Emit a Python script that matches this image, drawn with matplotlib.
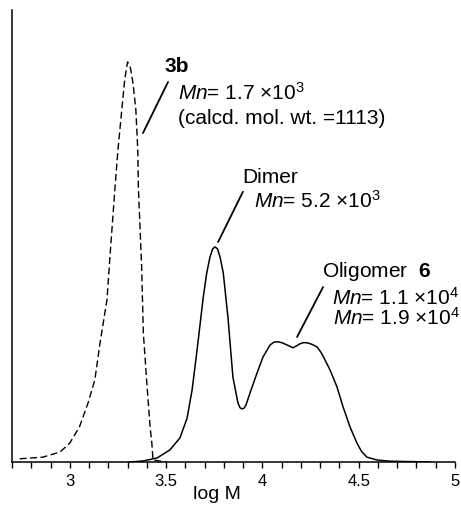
import numpy as np
import matplotlib
matplotlib.use('Agg')
import matplotlib.pyplot as plt
from matplotlib.ticker import MultipleLocator, FuncFormatter

plt.rcParams['font.family'] = ['Liberation Sans', 'DejaVu Sans']
plt.rcParams['mathtext.fontset'] = 'custom'
plt.rcParams['mathtext.rm'] = 'Liberation Sans'
plt.rcParams['mathtext.it'] = 'Liberation Sans:italic'
plt.rcParams['mathtext.bf'] = 'Liberation Sans:bold'

# GPC trace of 3b (dashed)
logm_3b = [2.74, 2.86, 2.95, 3.00, 3.05, 3.095, 3.13, 3.157, 3.193, 3.21, 3.235,
           3.25, 3.27, 3.285, 3.30, 3.315, 3.328, 3.343, 3.353, 3.356, 3.373,
           3.382, 3.40, 3.417, 3.426, 3.432, 3.50]
int_3b = [0.8, 1.2, 2.5, 4.7, 8.7, 14.7, 20.4, 29.6, 40.3, 52.0, 68.4,
          77.6, 87.6, 95.0, 99.5, 98.0, 94.3, 87.6, 77.6, 68.4, 48.6,
          32.0, 19.6, 8.7, 4.7, 0.5, 0.0]

# GPC trace of the polymerisation product (solid)
logm_6 = [3.31, 3.38, 3.453, 3.52, 3.572, 3.609, 3.635, 3.661, 3.693, 3.711,
          3.728, 3.742, 3.754, 3.767, 3.780, 3.797, 3.810, 3.821, 3.847, 3.873,
          3.884, 3.894, 3.905, 3.915, 3.936, 3.972, 4.003, 4.040, 4.060, 4.081,
          4.105, 4.128, 4.159, 4.178, 4.195, 4.215, 4.237, 4.260, 4.284, 4.305,
          4.325, 4.351, 4.387, 4.419, 4.455, 4.491, 4.515, 4.543, 4.595, 4.663,
          4.87]
int_6 = [0.0, 0.25, 1.0, 3.0, 6.0, 10.9, 17.9, 27.9, 41.0, 47.0,
         51.0, 53.0, 53.5, 53.0, 51.0, 47.0, 41.0, 36.1, 21.1, 14.7,
         13.5, 13.2, 13.4, 14.2, 17.2, 22.1, 26.1, 29.1, 29.8, 29.9,
         29.6, 29.1, 28.4, 28.9, 29.4, 29.7, 29.6, 29.2, 28.6, 27.2,
         25.4, 22.9, 18.7, 13.7, 8.7, 4.7, 2.6, 1.2, 0.5, 0.2,
         0.0]

tick_vals = [3, 3.5, 4, 4.5, 5]

fig = plt.figure(figsize=(4.61, 5.07), dpi=100)
ax = fig.add_axes([12/461, 1 - 462/507, 443/461, 452/507])

ax.plot(logm_3b, int_3b, color='black', lw=1.0, linestyle=(0, (5, 2.5)))
ax.plot(logm_6, int_6, color='black', lw=1.1)

ax.set_xlim(2.7, 5.0)
ax.set_ylim(0, 112.4)

ax.spines['top'].set_visible(False)
ax.spines['right'].set_visible(False)
ax.spines['left'].set_linewidth(1.1)
ax.spines['bottom'].set_linewidth(1.1)
ax.set_yticks([])

ax.xaxis.set_major_locator(MultipleLocator(0.5))
ax.xaxis.set_minor_locator(MultipleLocator(0.1))
ax.xaxis.set_major_formatter(FuncFormatter(lambda v, p: '%g' % v))
ax.tick_params(axis='x', which='both', direction='out', length=4, width=1.0,
               labelsize=12, pad=5)
ax.set_xticks(tick_vals)

ax.set_xlabel('log M', fontsize=14)
ax.xaxis.set_label_coords(0.463, -0.054)

fs = 15
line_kw = dict(arrowstyle='-', lw=1.3, color='black', shrinkA=0, shrinkB=0)

# 3b labels
ax.annotate('', xy=(3.380, 81.8), xytext=(3.510, 94.5), arrowprops=line_kw)
ax.text(3.494, 97.0, '3b', fontsize=fs, fontweight='bold', va='baseline')
ax.text(3.562, 90.0, r'$\mathit{Mn}$= 1.7 $\times$10$^{3}$', fontsize=fs, va='baseline')
ax.text(3.562, 84.1, '(calcd. mol. wt. =1113)', fontsize=fs, va='baseline')

# dimer labels
ax.annotate('', xy=(3.770, 54.7), xytext=(3.899, 67.2), arrowprops=line_kw)
ax.text(3.894, 69.4, 'Dimer', fontsize=fs, va='baseline')
ax.text(3.956, 63.2, r'$\mathit{Mn}$= 5.2 $\times$10$^{3}$', fontsize=fs, va='baseline')

# oligomer labels
ax.annotate('', xy=(4.180, 31.1), xytext=(4.315, 43.5), arrowprops=line_kw)
ax.text(4.310, 46.0, r'Oligomer  $\mathbf{6}$', fontsize=fs, va='baseline')
ax.text(4.362, 39.1, r'$\mathit{Mn}$= 1.1 $\times$10$^{4}$', fontsize=fs, va='baseline')
ax.text(4.367, 34.1, r'$\mathit{Mn}$= 1.9 $\times$10$^{4}$', fontsize=fs, va='baseline')

fig.savefig('out.png', dpi=100)
